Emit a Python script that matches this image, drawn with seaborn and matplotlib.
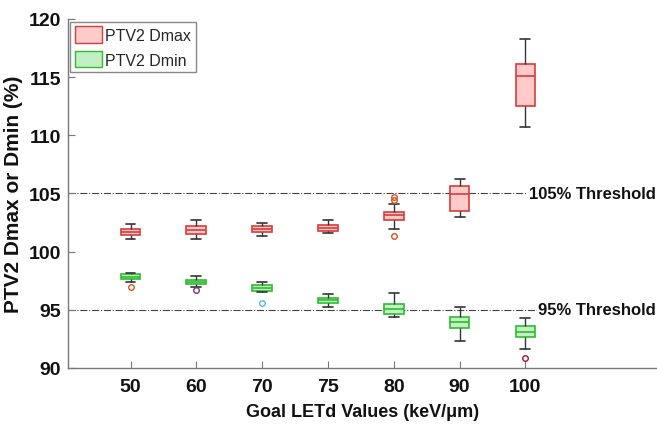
import pandas as pd
import seaborn as sns
import matplotlib.pyplot as plt
from matplotlib.patches import Patch

# Goal LETd values (categories)
letd = ['50', '60', '70', '75', '80', '90', '100']

# box summaries: lower whisker, Q1, median, Q3, upper whisker
dmax_lo = [101.1, 101.1, 101.3, 101.6, 101.9, 103.0, 110.7]
dmax_q1 = [101.46, 101.54, 101.72, 101.8, 102.75, 103.5, 112.5]
dmax_med = [101.65, 101.85, 101.95, 102.05, 103.1, 104.95, 115.05]
dmax_q3 = [101.9, 102.18, 102.23, 102.32, 103.44, 105.67, 116.15]
dmax_hi = [102.4, 102.7, 102.46, 102.7, 104.1, 106.2, 118.3]

dmin_lo = [97.37, 96.94, 96.5, 95.22, 94.36, 92.35, 91.63]
dmin_q1 = [97.65, 97.19, 96.62, 95.61, 94.67, 93.46, 92.64]
dmin_med = [97.85, 97.4, 96.88, 95.8, 95.07, 93.93, 93.12]
dmin_q3 = [98.08, 97.59, 97.13, 95.99, 95.47, 94.36, 93.64]
dmin_hi = [98.17, 97.88, 97.39, 96.36, 96.45, 95.22, 94.27]

# outliers (category, value, colour)
out_cat = ['50', '60', '70', '80', '80', '80', '100']
out_val = [96.94, 96.68, 95.56, 104.67, 104.47, 101.37, 90.83]
out_col = ['#D95319', '#7E2F8E', '#4DBEEE', '#D95319', '#D95319', '#D95319', '#A2142F']

thresholds = [105, 95]
threshold_labels = ['105% Threshold', '95% Threshold']


def to_long(lo, q1, med, q3, hi):
    rows = []
    for i, c in enumerate(letd):
        for v in (lo[i], q1[i], med[i], q3[i], hi[i]):
            rows.append({'LETd': c, 'value': v})
    return pd.DataFrame(rows)


df_max = to_long(dmax_lo, dmax_q1, dmax_med, dmax_q3, dmax_hi)
df_min = to_long(dmin_lo, dmin_q1, dmin_med, dmin_q3, dmin_hi)

sns.set_style('white')
plt.rcParams['font.family'] = ['Liberation Sans', 'DejaVu Sans']

fig = plt.figure(figsize=(6.57, 4.31), dpi=100)
ax = fig.add_axes([0.1035, 0.144, 0.8965, 0.81])

red_face, red_edge = '#FFCACA', '#D93A3A'
green_face, green_edge = '#C4EFC4', '#2DBE2D'

for data, face, edge in [(df_max, red_face, red_edge), (df_min, green_face, green_edge)]:
    sns.boxplot(data=data, x='LETd', y='value', order=letd, ax=ax,
                color=face, saturation=1, width=0.3, whis=(0, 100),
                showfliers=False, linewidth=1.2,
                boxprops={'edgecolor': edge, 'facecolor': face},
                medianprops={'color': edge, 'linewidth': 1.2},
                whiskerprops={'color': '#333333', 'linewidth': 1.0},
                capprops={'color': '#333333', 'linewidth': 1.2})

# outliers
pos = {c: i for i, c in enumerate(letd)}
for c, v, col in zip(out_cat, out_val, out_col):
    ax.plot(pos[c], v, 'o', ms=4, mfc='none', mec=col, mew=1.0)

# threshold lines
for t, lab in zip(thresholds, threshold_labels):
    ax.axhline(t, color='#444444', linestyle='-.', linewidth=0.8, zorder=0)
    ax.text(7.98, t, lab, ha='right', va='center', fontsize=12, fontweight='bold',
            color='#111111',
            bbox=dict(facecolor='white', edgecolor='none', pad=1))

ax.set_xlim(-0.95, 8.0)
ax.set_ylim(90, 120)
ax.set_yticks([90, 95, 100, 105, 110, 115, 120])

for s in ['top', 'right']:
    ax.spines[s].set_visible(False)
for s in ['left', 'bottom']:
    ax.spines[s].set_color('#777777')
    ax.spines[s].set_linewidth(1.0)

ax.tick_params(axis='both', direction='in', length=5, width=0.8, color='#777777',
               labelsize=14, labelcolor='#111111', left=True, bottom=True)
ax.tick_params(axis='x', pad=7)
ax.tick_params(axis='y', pad=5)
for lbl in ax.get_xticklabels() + ax.get_yticklabels():
    lbl.set_fontweight('bold')

ax.set_xlabel('Goal LETd Values (keV/μm)', fontsize=13, fontweight='bold', color='#111111',
              labelpad=6)
ax.set_ylabel('PTV2 Dmax or Dmin (%)', fontsize=15, fontweight='bold', color='#111111',
              labelpad=4)

handles = [Patch(facecolor=red_face, edgecolor=red_edge, label='PTV2 Dmax'),
           Patch(facecolor=green_face, edgecolor=green_edge, label='PTV2 Dmin')]
leg = ax.legend(handles=handles, loc='upper left', bbox_to_anchor=(0.003, 0.992),
                fontsize=11.5, fancybox=False, framealpha=1, edgecolor='#888888',
                handlelength=1.7, handleheight=1.2, handletextpad=0.2,
                borderpad=0.3, labelspacing=0.5, borderaxespad=0)

plt.savefig('out.png', dpi=100)
